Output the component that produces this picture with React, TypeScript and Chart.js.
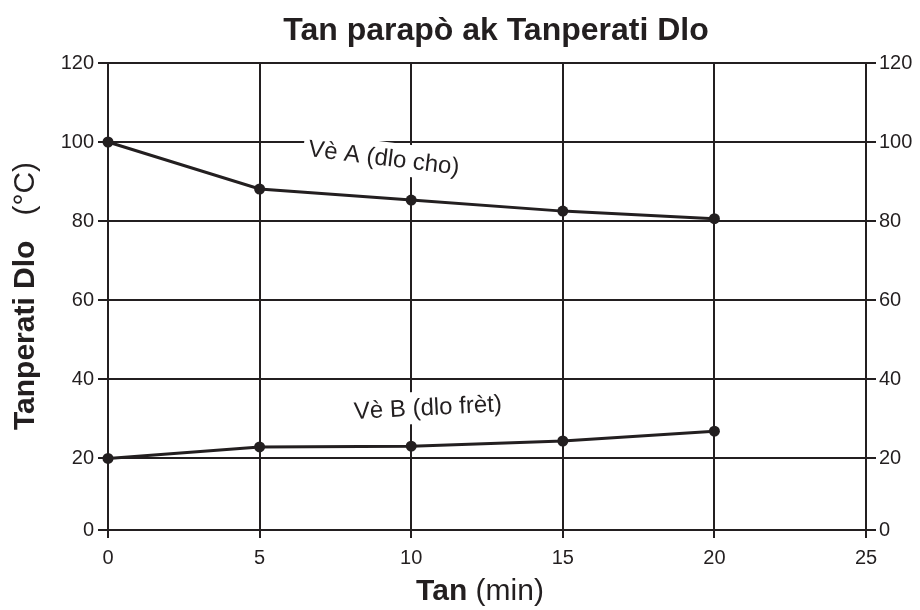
import { useEffect, useRef } from "react";
import { Chart, registerables } from "chart.js";

Chart.register(...registerables);

// ---- data ----
const chartTitle = "Tan parapò ak Tanperati Dlo";
const xTitleBold = "Tan";
const xTitleNormal = " (min)";
const yTitleBold = "Tanperati Dlo";
const yTitleNormal = "   (°C)";
const timeMin = [0, 5, 10, 15, 20];
const seriesA = [100, 88.1, 85.3, 82.5, 80.6];
const seriesB = [19.9, 22.8, 23.0, 24.3, 26.8];
const labelA = "Vè A (dlo cho)";
const labelB = "Vè B (dlo frèt)";
const xTicks = [0, 5, 10, 15, 20, 25];
const yTicks = [0, 20, 40, 60, 80, 100, 120];

// ---- layout / style ----
const INK = "#231f20";
const FAMILY = '"Liberation Sans", Arial, Helvetica, sans-serif';
const Y_BOTTOM = 1.77; // the reference draws its "0" line slightly above true zero
const Y_TOP = 120;
const labelAAnchor = { x: 9.1, y: 96.0, rot: 7 };
const labelBAnchor = { x: 10.55, y: 32.8, rot: -3 };

function drawMixed(
  ctx: CanvasRenderingContext2D,
  bold: string,
  normal: string,
  size: number
) {
  ctx.font = `bold ${size}px ${FAMILY}`;
  const wb = ctx.measureText(bold).width;
  ctx.font = `${size}px ${FAMILY}`;
  const wn = ctx.measureText(normal).width;
  const start = -(wb + wn) / 2;
  ctx.textAlign = "left";
  ctx.textBaseline = "alphabetic";
  ctx.font = `bold ${size}px ${FAMILY}`;
  ctx.fillText(bold, start, 0);
  ctx.font = `${size}px ${FAMILY}`;
  ctx.fillText(normal, start + wb, 0);
}

function drawBoxedLabel(
  ctx: CanvasRenderingContext2D,
  text: string,
  cx: number,
  cy: number,
  rotDeg: number
) {
  ctx.save();
  ctx.translate(cx, cy);
  ctx.rotate((rotDeg * Math.PI) / 180);
  ctx.font = `24px ${FAMILY}`;
  const w = ctx.measureText(text).width;
  ctx.fillStyle = "#ffffff";
  ctx.fillRect(-w / 2 - 5, -16, w + 10, 32);
  ctx.fillStyle = INK;
  ctx.textAlign = "center";
  ctx.textBaseline = "middle";
  ctx.fillText(text, 0, 1);
  ctx.restore();
}

const textPlugin = {
  id: "textPlugin",
  afterDraw(chart: any) {
    const ctx: CanvasRenderingContext2D = chart.ctx;
    const xs = chart.scales.x;
    const ys = chart.scales.y;
    ctx.save();
    ctx.fillStyle = INK;
    // title
    ctx.font = `bold 32px ${FAMILY}`;
    ctx.textAlign = "center";
    ctx.textBaseline = "alphabetic";
    ctx.fillText(chartTitle, 496, 40);
    // x title
    ctx.save();
    ctx.translate(480, 600);
    drawMixed(ctx, xTitleBold, xTitleNormal, 30);
    ctx.restore();
    // y title
    ctx.save();
    ctx.translate(34, 296);
    ctx.rotate(-Math.PI / 2);
    drawMixed(ctx, yTitleBold, yTitleNormal, 30);
    ctx.restore();
    // series labels
    drawBoxedLabel(
      ctx,
      labelA,
      xs.getPixelForValue(labelAAnchor.x),
      ys.getPixelForValue(labelAAnchor.y),
      labelAAnchor.rot
    );
    drawBoxedLabel(
      ctx,
      labelB,
      xs.getPixelForValue(labelBAnchor.x),
      ys.getPixelForValue(labelBAnchor.y),
      labelBAnchor.rot
    );
    ctx.restore();
  },
};

const yTickBuild = (s: any) => {
  s.ticks = yTicks.map((v) => ({ value: v === 0 ? Y_BOTTOM : v }));
};
const yTickLabel = (v: any) => (v === Y_BOTTOM ? "0" : String(v));

export default function App() {
  const ref = useRef<HTMLCanvasElement | null>(null);
  useEffect(() => {
    if (!ref.current) return;
    Chart.defaults.font.family = FAMILY;
    const chart = new Chart(ref.current, {
      type: "line",
      data: {
        datasets: [
          {
            label: labelA,
            data: timeMin.map((t, i) => ({ x: t, y: seriesA[i] })),
            borderColor: INK,
            backgroundColor: INK,
            borderWidth: 3,
            pointRadius: 5.5,
            pointBorderWidth: 0,
            tension: 0,
            clip: false,
          },
          {
            label: labelB,
            data: timeMin.map((t, i) => ({ x: t, y: seriesB[i] })),
            borderColor: INK,
            backgroundColor: INK,
            borderWidth: 3,
            pointRadius: 5.5,
            pointBorderWidth: 0,
            tension: 0,
            clip: false,
          },
        ],
      },
      options: {
        responsive: false,
        animation: false,
        layout: { padding: { top: 63, left: 0, right: 0, bottom: 0 } },
        plugins: {
          legend: { display: false },
          title: { display: false },
          tooltip: { enabled: false },
        },
        scales: {
          x: {
            type: "linear",
            min: 0,
            max: 25,
            afterBuildTicks: (s: any) => {
              s.ticks = xTicks.map((v) => ({ value: v }));
            },
            afterFit: (s: any) => {
              s.height = 80;
            },
            grid: { color: INK, lineWidth: 2, tickLength: 8, drawTicks: true },
            border: { color: INK, width: 2 },
            ticks: {
              color: INK,
              font: { size: 20, family: FAMILY },
              padding: 8,
              maxRotation: 0,
              autoSkip: false,
            },
          },
          y: {
            type: "linear",
            position: "left",
            min: Y_BOTTOM,
            max: Y_TOP,
            afterBuildTicks: yTickBuild,
            afterFit: (s: any) => {
              s.width = 108;
            },
            grid: { color: INK, lineWidth: 2, tickLength: 10, drawTicks: true },
            border: { color: INK, width: 2 },
            ticks: {
              color: INK,
              font: { size: 20, family: FAMILY },
              padding: 4,
              autoSkip: false,
              callback: yTickLabel,
            },
          },
          y2: {
            type: "linear",
            position: "right",
            min: Y_BOTTOM,
            max: Y_TOP,
            afterBuildTicks: yTickBuild,
            afterFit: (s: any) => {
              s.width = 54;
            },
            grid: {
              color: INK,
              lineWidth: 2,
              tickLength: 10,
              drawTicks: true,
              drawOnChartArea: false,
            },
            border: { color: INK, width: 2 },
            ticks: {
              color: INK,
              font: { size: 20, family: FAMILY },
              padding: 3,
              autoSkip: false,
              callback: yTickLabel,
            },
          },
        },
      },
      plugins: [textPlugin],
    });
    return () => chart.destroy();
  }, []);
  return (
    <div style={{ width: 920, height: 610 }}>
      <style>{`body{margin:0}`}</style>
      <canvas ref={ref} width={920} height={610} style={{ display: "block" }} />
    </div>
  );
}
